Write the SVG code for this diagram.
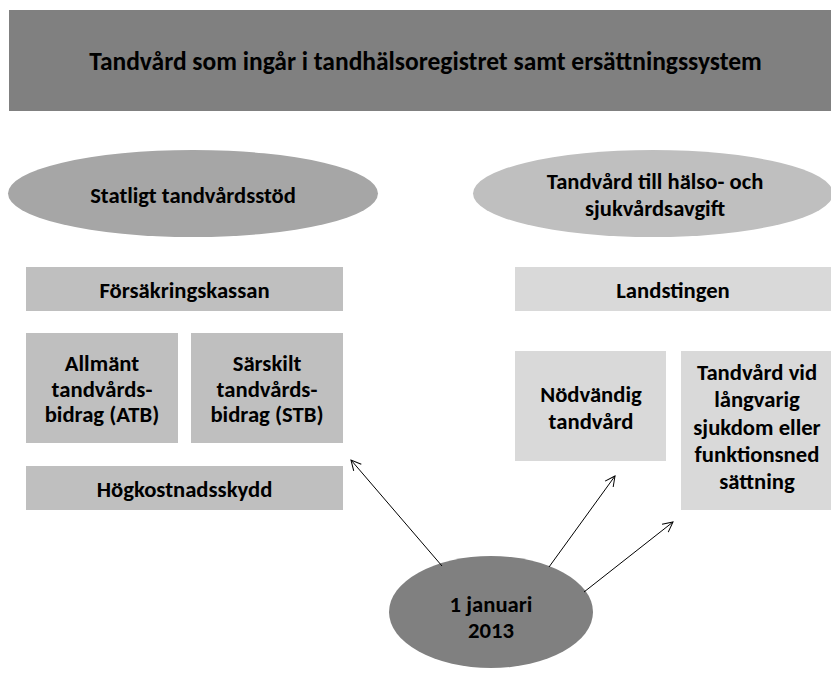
<svg xmlns="http://www.w3.org/2000/svg" width="831" height="673" viewBox="0 0 831 673">
<defs>
<style>
text{font-family:Carlito,"Liberation Sans Narrow","DejaVu Sans Condensed","Liberation Sans",sans-serif;fill:#000;text-anchor:middle;font-weight:bold}
.t{font-size:25.5px}
.e{font-size:22.6px}
.b{font-size:22.7px}
.conn line{stroke:#000;stroke-width:1}
</style>
<marker id="ah" viewBox="0 0 12 12" refX="11" refY="6" markerWidth="12" markerHeight="12" markerUnits="userSpaceOnUse" orient="auto">
<path d="M1,1 L11,6 L1,11" fill="none" stroke="#000" stroke-width="1"/>
</marker>
</defs>
<rect width="831" height="673" fill="#fff"/>
<g id="title">
<rect x="9" y="10" width="830" height="101" fill="#808080"/>
<text class="t" x="425.5" y="70">Tandvård som ingår i tandhälsoregistret samt ersättningssystem</text>
</g>
<g id="statligt">
<ellipse cx="193" cy="193.5" rx="185" ry="43.5" fill="#a6a6a6"/>
<text class="e" x="193" y="203">Statligt tandvårdsstöd</text>
</g>
<g id="hsavgift">
<ellipse cx="653" cy="193.5" rx="180" ry="43.5" fill="#bfbfbf"/>
<text class="e" x="655" y="189">Tandvård till hälso- och</text>
<text class="e" x="655" y="216">sjukvårdsavgift</text>
</g>
<g id="fk">
<rect x="26" y="267" width="317" height="44" fill="#bfbfbf"/>
<text class="b" x="184.5" y="298">Försäkringskassan</text>
</g>
<g id="atb">
<rect x="26" y="333" width="152" height="110" fill="#bfbfbf"/>
<text class="b" x="102" y="371">Allmänt</text>
<text class="b" x="102" y="397">tandvårds-</text>
<text class="b" x="102" y="422">bidrag (ATB)</text>
</g>
<g id="stb">
<rect x="191" y="333" width="152" height="110" fill="#bfbfbf"/>
<text class="b" x="267" y="371">Särskilt</text>
<text class="b" x="267" y="397">tandvårds-</text>
<text class="b" x="267" y="422">bidrag (STB)</text>
</g>
<g id="hkskydd">
<rect x="26" y="466" width="317" height="44" fill="#bfbfbf"/>
<text class="b" x="184.5" y="497">Högkostnadsskydd</text>
</g>
<g id="landstingen">
<rect x="515" y="267" width="320" height="44" fill="#d9d9d9"/>
<text class="b" x="673" y="298">Landstingen</text>
</g>
<g id="nodvandig">
<rect x="515" y="351" width="151" height="110" fill="#d9d9d9"/>
<text class="b" x="591" y="402">Nödvändig</text>
<text class="b" x="591" y="429">tandvård</text>
</g>
<g id="langvarig">
<rect x="681" y="351" width="154" height="159" fill="#d9d9d9"/>
<text class="b" x="757" y="380">Tandvård vid</text>
<text class="b" x="757" y="407">långvarig</text>
<text class="b" x="757" y="434.5">sjukdom eller</text>
<text class="b" x="757" y="462">funktionsned</text>
<text class="b" x="757" y="489">sättning</text>
</g>
<g id="jan2013">
<ellipse cx="491" cy="612" rx="102" ry="56" fill="#808080"/>
<text class="b" x="491" y="612">1 januari</text>
<text class="b" x="491" y="638">2013</text>
</g>
<g class="conn" id="connectors">
<line x1="442" y1="566" x2="351" y2="460" marker-end="url(#ah)"/>
<line x1="549" y1="567" x2="615" y2="476" marker-end="url(#ah)"/>
<line x1="584" y1="592" x2="673" y2="522" marker-end="url(#ah)"/>
</g>
</svg>
